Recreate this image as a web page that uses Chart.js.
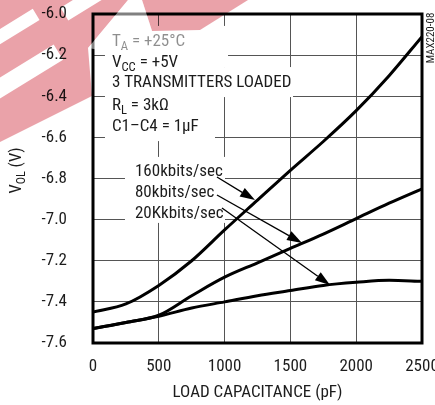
<!DOCTYPE html>
<html><head><meta charset="utf-8">
<script src="https://cdn.jsdelivr.net/npm/chart.js@4/dist/chart.umd.min.js"></script>
<style>html,body{margin:0;padding:0;background:#fff;overflow:hidden}canvas{display:block}</style>
</head><body>
<canvas id="c" width="435" height="405"></canvas>
<script>
// ---- data ----
const capacitance = [0, 250, 500, 750, 1000, 1250, 1500, 1750, 2000, 2250, 2500];
const v160 = [-7.45, -7.41, -7.32, -7.20, -7.05, -6.905, -6.76, -6.62, -6.47, -6.30, -6.11];
const v80  = [-7.53, -7.50, -7.465, -7.37, -7.28, -7.21, -7.14, -7.07, -6.995, -6.92, -6.85];
const v20  = [-7.53, -7.50, -7.47, -7.43, -7.40, -7.37, -7.345, -7.32, -7.305, -7.295, -7.30];
const seriesNames = ['160kbits/sec', '80kbits/sec', '20Kkbits/sec'];
const xTickValues = [0, 500, 1000, 1500, 2000, 2500];
const yTickValues = [-7.6, -7.4, -7.2, -7.0, -6.8, -6.6, -6.4, -6.2, -6.0];
const xTitle = 'LOAD CAPACITANCE (pF)';
const yTitle = [{t:'V'}, {t:'OL', sub:true}, {t:' (V)'}];
const conditions = [
  [{t:'T'}, {t:'A', sub:true}, {t:' = +25°C'}],
  [{t:'V'}, {t:'CC', sub:true}, {t:' = +5V'}],
  [{t:'3 TRANSMITTERS LOADED'}],
  [{t:'R'}, {t:'L', sub:true}, {t:' = 3kΩ'}],
  [{t:'C1–C4 = 1µF'}]
];
const figureId = 'MAX220-08';

// ---- annotation placement (data units) ----
const condLeft = 144;
const condBaselines = [-6.156, -6.258, -6.357, -6.467, -6.569];
const labelLeft = 319;
const labelBaselines = [-6.790, -6.890, -6.992];
const arrows = [
  {from:[942, -6.793], to:[1231, -6.905]},
  {from:[942, -6.880], to:[1588, -7.114]},
  {from:[980, -6.943], to:[1801, -7.318]}
];
const blankBoxes = [
  [91, -6.058, 1026, -6.258],
  [91, -6.258, 1520, -6.404],
  [91, -6.404, 927, -6.618],
  [243, -6.695, 1003, -7.016]
];

// ---- font: pick a narrow face and size it to the reference text width ----
function hasFont(f) {
  const c = document.createElement('canvas').getContext('2d');
  const s = 'WwMmIl10 TRANSMITTERS';
  c.font = '40px monospace'; const a = c.measureText(s).width;
  c.font = '40px "' + f + '", monospace'; const b = c.measureText(s).width;
  return Math.abs(a - b) > 0.5;
}
const candidates = ['Liberation Sans Narrow', 'Arial Narrow', 'Roboto Condensed', 'DejaVu Sans Condensed', 'Liberation Sans'];
const FACE = candidates.find(hasFont) || 'sans-serif';
const FONT = '"' + FACE + '", sans-serif';
const FS = (() => {
  const c = document.createElement('canvas').getContext('2d');
  c.font = '20px ' + FONT;
  const w = c.measureText('3 TRANSMITTERS LOADED').width;
  return Math.min(18, Math.round(20 * 177 / w * 2) / 2);
})();
const INK = '#1c1c1c';
Chart.defaults.font.family = FONT;
Chart.defaults.color = INK;

function richWidth(ctx, segs, size) {
  let w = 0;
  for (const s of segs) { ctx.font = (s.sub ? size * 0.74 : size) + 'px ' + FONT; w += ctx.measureText(s.t).width; }
  return w;
}
function drawRich(ctx, segs, x, y, size) {
  ctx.textAlign = 'left'; ctx.textBaseline = 'alphabetic';
  for (const s of segs) {
    const sz = s.sub ? size * 0.74 : size;
    ctx.font = sz + 'px ' + FONT;
    ctx.fillText(s.t, x, y + (s.sub ? size * 0.26 : 0));
    x += ctx.measureText(s.t).width;
  }
}
function stripePath(ctx, s) {
  const [cx, cy, len, wid] = s, a = -0.55;
  const ux = Math.cos(a), uy = Math.sin(a), vx = -uy, vy = ux;
  const hl = len / 2, hw = wid / 2;
  ctx.moveTo(cx - ux * hl - vx * hw, cy - uy * hl - vy * hw);
  ctx.lineTo(cx + ux * hl - vx * hw, cy + uy * hl - vy * hw);
  ctx.lineTo(cx + ux * hl + vx * hw, cy + uy * hl + vy * hw);
  ctx.lineTo(cx - ux * hl + vx * hw, cy - uy * hl + vy * hw);
  ctx.closePath();
}
function polyPath(ctx, pts) {
  ctx.moveTo(pts[0][0], pts[0][1]);
  for (let i = 1; i < pts.length; i++) ctx.lineTo(pts[i][0], pts[i][1]);
  ctx.closePath();
}

const overlay = {
  id: 'overlay',
  beforeDraw(chart) {
    const ctx = chart.ctx; ctx.save(); ctx.fillStyle = '#fff'; ctx.fillRect(0, 0, chart.width, chart.height); ctx.restore();
  },
  beforeDatasetsDraw(chart) {
    const {ctx, chartArea: a, scales: {x, y}} = chart;
    ctx.save();
    ctx.fillStyle = '#fff';
    for (const b of blankBoxes) {
      const x0 = x.getPixelForValue(b[0]), y0 = y.getPixelForValue(b[1]);
      const x1 = x.getPixelForValue(b[2]), y1 = y.getPixelForValue(b[3]);
      ctx.fillRect(x0, y0, x1 - x0, y1 - y0);
    }
    ctx.strokeStyle = '#000'; ctx.lineWidth = 3;
    ctx.strokeRect(a.left, a.top, a.right - a.left, a.bottom - a.top);
    ctx.fillStyle = INK;
    conditions.forEach((segs, i) => drawRich(ctx, segs, x.getPixelForValue(condLeft), y.getPixelForValue(condBaselines[i]), FS));
    seriesNames.forEach((n, i) => drawRich(ctx, [{t:n}], x.getPixelForValue(labelLeft), y.getPixelForValue(labelBaselines[i]), FS));
    ctx.restore();
  },
  afterDatasetsDraw(chart) {
    const {ctx, scales: {x, y}} = chart;
    ctx.save();
    ctx.strokeStyle = '#000'; ctx.fillStyle = '#000'; ctx.lineWidth = 1.3;
    for (const ar of arrows) {
      const x0 = x.getPixelForValue(ar.from[0]), y0 = y.getPixelForValue(ar.from[1]);
      const x1 = x.getPixelForValue(ar.to[0]), y1 = y.getPixelForValue(ar.to[1]);
      const ang = Math.atan2(y1 - y0, x1 - x0);
      const L = 15, W = 5;
      const bx = x1 - L * Math.cos(ang), by = y1 - L * Math.sin(ang);
      ctx.beginPath(); ctx.moveTo(x0, y0); ctx.lineTo(bx, by); ctx.stroke();
      ctx.beginPath(); ctx.moveTo(x1, y1);
      ctx.lineTo(bx + W * Math.sin(ang), by - W * Math.cos(ang));
      ctx.lineTo(bx - W * Math.sin(ang), by + W * Math.cos(ang));
      ctx.closePath(); ctx.fill();
    }
    ctx.restore();
  },
  afterDraw(chart) {
    const {ctx, chartArea: a} = chart;
    ctx.save();
    ctx.fillStyle = INK;
    ctx.save();
    ctx.translate(21, (a.top + a.bottom) / 2 - 8);
    ctx.rotate(-Math.PI / 2);
    const tw = richWidth(ctx, yTitle, FS - 0.5);
    drawRich(ctx, yTitle, -tw / 2, 0, FS - 0.5);
    ctx.restore();
    ctx.save();
    ctx.translate(chart.width - 1, a.top + 24);
    ctx.rotate(-Math.PI / 2);
    ctx.font = Math.round(FS * 0.62) + 'px ' + FONT; ctx.textAlign = 'center'; ctx.textBaseline = 'alphabetic';
    ctx.fillText(figureId, 0, 0);
    ctx.restore();
    // watermark (overlay logo in the top-left corner)
    const pieceA = [[0, 0], [128, 0], [88, 48], [92, 96], [0, 142]];
    const pieceB = [[142, 0], [248, 0], [200, 30], [152, 31]];
    const holes = [[14, 28, 52, 13], [26, 72, 76, 18], [84, 2, 46, 15]];
    ctx.globalCompositeOperation = 'multiply';
    ctx.fillStyle = '#eaa2a9';
    ctx.beginPath();
    polyPath(ctx, pieceA);
    holes.forEach(h => stripePath(ctx, h));
    ctx.fill('evenodd');
    ctx.beginPath(); polyPath(ctx, pieceB); ctx.fill();
    ctx.globalCompositeOperation = 'source-over';
    ctx.fillStyle = 'rgba(255,255,255,0.5)';
    ctx.beginPath(); polyPath(ctx, [[88, 48], [128, 0], [142, 0], [152, 31], [192, 31], [192, 49], [100, 50]]); ctx.fill();
    ctx.restore();
  }
};

const mk = (vals) => capacitance.map((c, i) => ({x: c, y: vals[i]}));
new Chart(document.getElementById('c'), {
  type: 'line',
  data: {
    datasets: [
      {label: seriesNames[0], data: mk(v160)},
      {label: seriesNames[1], data: mk(v80)},
      {label: seriesNames[2], data: mk(v20)}
    ].map(d => Object.assign(d, {borderColor: '#000', borderWidth: 3, pointRadius: 0, cubicInterpolationMode: 'monotone', fill: false}))
  },
  options: {
    responsive: false,
    animation: false,
    devicePixelRatio: 1,
    layout: {padding: {left: 0, top: 14, right: 13, bottom: 0}},
    plugins: {legend: {display: false}, tooltip: {enabled: false}},
    scales: {
      x: {
        type: 'linear', min: 0, max: 2500,
        afterBuildTicks: s => { s.ticks = xTickValues.map(v => ({value: v})); },
        ticks: {font: {size: FS}, color: INK, padding: 14, maxRotation: 0, autoSkip: false, callback: v => String(v)},
        grid: {color: '#555', lineWidth: 1, drawTicks: false},
        border: {display: false},
        title: {display: true, text: xTitle, font: {size: FS}, color: INK, padding: {top: 0, bottom: 2}},
        afterFit: s => { s.height = 62; s.paddingLeft = 0; s.paddingRight = 0; }
      },
      y: {
        type: 'linear', min: -7.6, max: -6.0,
        afterBuildTicks: s => { s.ticks = yTickValues.map(v => ({value: v})); },
        ticks: {font: {size: FS}, color: INK, padding: 26, callback: v => v.toFixed(1), autoSkip: false},
        grid: {color: '#555', lineWidth: 1, drawTicks: false},
        border: {display: false},
        afterFit: s => { s.width = 93; s.paddingTop = 0; s.paddingBottom = 0; }
      }
    }
  },
  plugins: [overlay]
});
</script>
</body></html>
